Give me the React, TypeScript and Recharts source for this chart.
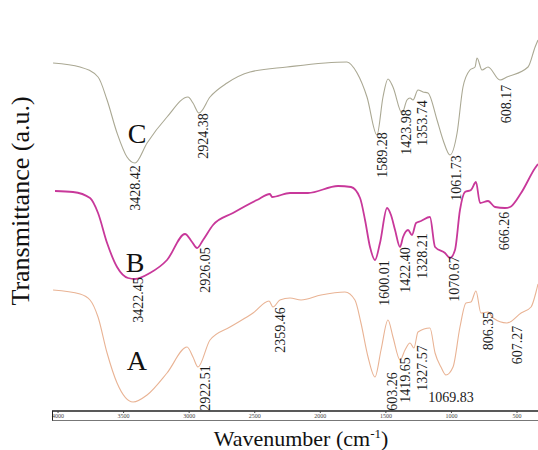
import React from 'react';
import { ComposedChart, Line, Scatter, XAxis, YAxis } from 'recharts';

const WN_TICKS = [4000, 3500, 3000, 2500, 2000, 1500, 1000, 500];

// trace C (top)
const WN_C = [4038, 3832, 3695, 3626, 3550, 3474, 3413, 3321, 3169, 3009, 2971, 2925, 2841, 2711, 2536, 2254, 1797, 1720, 1644, 1568, 1522, 1484, 1446, 1377, 1339, 1316, 1293, 1255, 1217, 1179, 1110, 1064, 1011, 957, 912, 859, 820, 805, 767, 721, 630, 577, 416, 362, 340];
const T_C = [348, 344, 334, 311, 278, 254, 248, 268, 294, 314, 308, 298, 314, 328, 339, 344, 349, 338, 314, 276, 314, 332, 324, 298, 311, 313, 311, 321, 319, 318, 291, 271, 256, 278, 324, 341, 344, 353, 341, 344, 331, 334, 344, 364, 371];

// trace B (middle)
const WN_B = [4023, 3886, 3756, 3695, 3626, 3550, 3466, 3413, 3299, 3169, 3032, 2978, 2940, 2894, 2818, 2666, 2483, 2384, 2368, 2231, 2094, 1865, 1766, 1697, 1659, 1621, 1583, 1545, 1491, 1461, 1430, 1392, 1369, 1331, 1301, 1270, 1232, 1164, 1125, 1049, 1011, 973, 935, 897, 851, 813, 782, 721, 668, 592, 553, 469, 362, 340];
const T_B = [220, 219, 213, 198, 168, 144, 133, 132, 138, 151, 177, 169, 163, 171, 186, 198, 211, 217, 214, 218, 218, 225, 224, 213, 191, 164, 151, 168, 203, 196, 181, 164, 174, 181, 176, 188, 190, 194, 164, 158, 153, 161, 201, 219, 221, 229, 208, 210, 204, 203, 204, 218, 243, 247];

// trace A (bottom)
const WN_A = [4038, 3832, 3756, 3695, 3626, 3550, 3428, 3321, 3169, 3016, 2971, 2933, 2841, 2689, 2513, 2391, 2361, 2308, 2231, 2147, 1995, 1812, 1736, 1690, 1636, 1583, 1537, 1484, 1446, 1392, 1354, 1316, 1286, 1255, 1164, 1125, 1080, 1042, 988, 935, 889, 851, 813, 775, 721, 683, 577, 469, 393, 355, 340];
const T_A = [121, 117, 111, 94, 58, 28, 9, 16, 38, 64, 54, 44, 71, 84, 98, 110, 104, 111, 113, 111, 116, 119, 111, 88, 54, 34, 61, 91, 74, 51, 61, 68, 63, 79, 83, 58, 44, 36, 44, 84, 108, 109, 120, 98, 99, 93, 88, 98, 104, 119, 127];

// peak annotations (rotated)
const PEAK_TEXT = [
  '3428.42', '2924.38', '1589.28', '1423.98', '1353.74', '1061.73', '608.17',
  '3422.45', '2926.05', '1600.01', '1422.40', '1328.21', '1070.67', '666.26',
  '2359.46', '2922.51', '1603.26', '1419.65', '1327.57', '806.35', '607.27',
];
const PEAK_WN = [3413, 2894, 1522, 1339, 1217, 965, 584, 3390, 2879, 1507, 1347, 1217, 980, 592, 2307, 2879, 1453, 1347, 1217, 721, 493];
const PEAK_T = [223, 275, 256, 279, 288, 233, 307, 111, 141, 128, 141, 155, 132, 180, 81, 23, 16, 31, 43, 80, 66];

// the one label written flat
const FLAT_TEXT = ['1069.83'];
const FLAT_WN = [1003];
const FLAT_T = [14];

const SAMPLE_NAMES = ['C', 'B', 'A'];
const SAMPLE_WN = [3398, 3413, 3398];
const SAMPLE_T = [278, 149, 51];

const SERIF = '"Liberation Serif", "Times New Roman", serif';

const toPoints = (wn: number[], t: number[]) => wn.map((w, i) => ({ wn: w, t: t[i] }));

const seriesC = toPoints(WN_C, T_C);
const seriesB = toPoints(WN_B, T_B);
const seriesA = toPoints(WN_A, T_A);

const peaks = PEAK_TEXT.map((text, i) => ({ wn: PEAK_WN[i], t: PEAK_T[i], text }));
const flats = FLAT_TEXT.map((text, i) => ({ wn: FLAT_WN[i], t: FLAT_T[i], text }));
const names = SAMPLE_NAMES.map((text, i) => ({ wn: SAMPLE_WN[i], t: SAMPLE_T[i], text }));

const PeakLabel = (props: any) => {
  const { cx, cy, payload } = props;
  return (
    <text transform={`translate(${cx},${cy}) rotate(-90)`} textAnchor="middle" dominantBaseline="central"
      fontSize={14} fontFamily={SERIF} fill="#1a1a1a">{payload.text}</text>
  );
};

const FlatLabel = (props: any) => {
  const { cx, cy, payload } = props;
  return (
    <text x={cx} y={cy} textAnchor="middle" dominantBaseline="central"
      fontSize={14} fontFamily={SERIF} fill="#1a1a1a">{payload.text}</text>
  );
};

const NameLabel = (props: any) => {
  const { cx, cy, payload } = props;
  return (
    <text x={cx} y={cy} textAnchor="middle" dominantBaseline="central"
      fontSize={28} fontFamily={SERIF} fill="#111">{payload.text}</text>
  );
};

export default function App() {
  return (
    <div style={{ position: 'absolute', left: 0, top: 0, width: 538, height: 450, background: '#fff', overflow: 'hidden' }}>
      <ComposedChart width={538} height={450} margin={{ top: 13, right: 0, bottom: 0, left: 52 }}>
        <XAxis type="number" dataKey="wn" domain={[340, 4046]} reversed allowDataOverflow
          ticks={WN_TICKS} interval={0} tickSize={2} tickMargin={1} height={39}
          tick={{ fontSize: 6, fill: '#444', fontFamily: SERIF }}
          axisLine={{ stroke: '#222', strokeWidth: 1.5 }} tickLine={{ stroke: '#444' }} />
        <YAxis type="number" dataKey="t" domain={[0, 398]} allowDataOverflow width={0}
          tick={false} tickLine={false} axisLine={{ stroke: '#222', strokeWidth: 1.8 }} />
        <Line data={seriesC} dataKey="t" type="monotone" stroke="#aaa893" strokeWidth={1.1} dot={false} isAnimationActive={false} />
        <Line data={seriesB} dataKey="t" type="monotone" stroke="#c8389a" strokeWidth={1.8} dot={false} isAnimationActive={false} />
        <Line data={seriesA} dataKey="t" type="monotone" stroke="#e9b394" strokeWidth={1.1} dot={false} isAnimationActive={false} />
        <Scatter data={peaks} dataKey="t" shape={PeakLabel} isAnimationActive={false} />
        <Scatter data={flats} dataKey="t" shape={FlatLabel} isAnimationActive={false} />
        <Scatter data={names} dataKey="t" shape={NameLabel} isAnimationActive={false} />
      </ComposedChart>
      <div style={{ position: 'absolute', left: 52, top: 411, width: 486, height: 10, borderLeft: '1.8px solid #222', borderBottom: '1px solid #777', boxSizing: 'border-box' }} />
      <svg width={538} height={450} style={{ position: 'absolute', left: 0, top: 0, pointerEvents: 'none' }}>
        <text transform="translate(29,201) rotate(-90)" textAnchor="middle" fontSize={26} fontFamily={SERIF} fill="#111">
          Transmittance (a.u.)
        </text>
        <text x={301} y={446} textAnchor="middle" fontSize={22} fontFamily={SERIF} fill="#111">
          Wavenumber (cm<tspan dy={-8} fontSize={13}>-1</tspan><tspan dy={8}>)</tspan>
        </text>
      </svg>
    </div>
  );
}
